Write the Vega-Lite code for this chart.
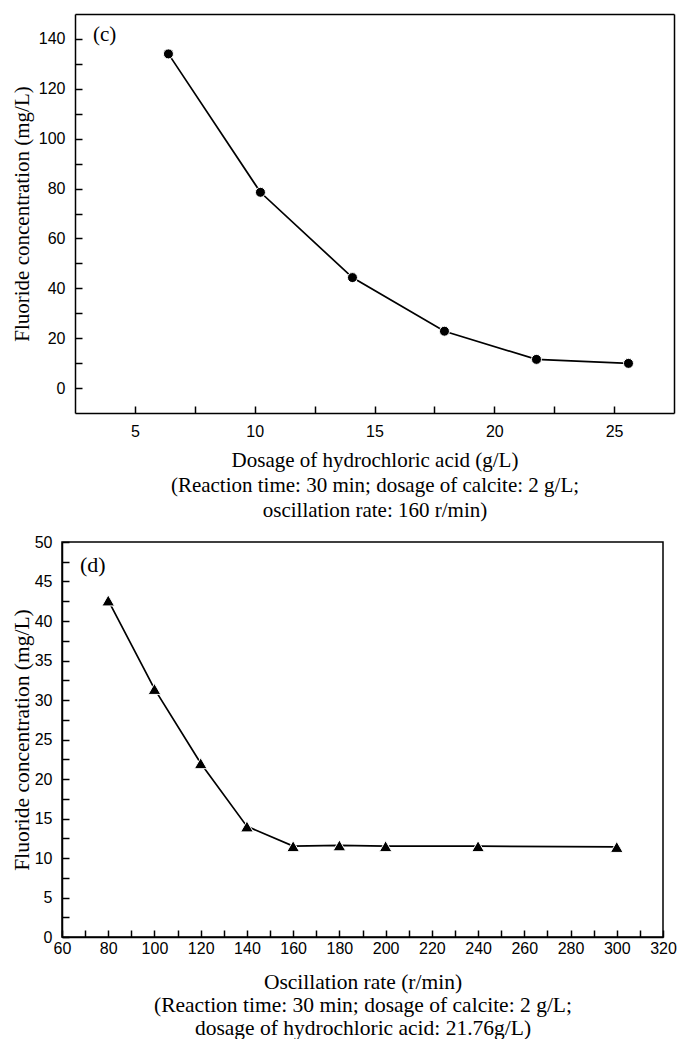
{
  "$schema": "https://vega.github.io/schema/vega-lite/v6.json",
  "background": "white",
  "padding": {"top": 14, "left": 10, "right": 0, "bottom": 0},
  "config": {
    "view": {"stroke": "black", "strokeWidth": 1.5},
    "axis": {
      "domainColor": "black", "domainWidth": 1.5,
      "tickColor": "black", "tickWidth": 1.5, "tickOpacity": 1, "tickCount": 40,
      "labelFont": "Liberation Sans", "labelFontSize": 16, "labelColor": "black",
      "labelFlush": false, "labelOverlap": false,
      "titleFont": "Liberation Serif", "titleFontSize": 21, "titleFontWeight": "normal", "titleColor": "black",
      "grid": false
    }
  },
  "datasets": {
    "c": [
      {"dosage": 6.4, "fluoride": 134.0},
      {"dosage": 10.24, "fluoride": 78.5},
      {"dosage": 14.08, "fluoride": 44.3},
      {"dosage": 17.92, "fluoride": 22.8},
      {"dosage": 21.76, "fluoride": 11.5},
      {"dosage": 25.6, "fluoride": 9.9}
    ],
    "d": [
      {"rate": 80, "fluoride": 42.6},
      {"rate": 100, "fluoride": 31.4},
      {"rate": 120, "fluoride": 22.0},
      {"rate": 140, "fluoride": 14.0},
      {"rate": 160, "fluoride": 11.5},
      {"rate": 180, "fluoride": 11.6},
      {"rate": 200, "fluoride": 11.5},
      {"rate": 240, "fluoride": 11.5},
      {"rate": 300, "fluoride": 11.4}
    ]
  },
  "columns": 1,
  "spacing": 13,
  "concat": [
    {
      "width": 612,
      "height": 399,
      "view": {"stroke": null},
      "resolve": {"axis": {"x": "independent", "y": "independent"}},
      "layer": [
        {
          "data": {"name": "c"},
          "mark": {"type": "line", "color": "black", "strokeWidth": 1.7},
          "encoding": {
            "x": {
              "field": "dosage", "type": "quantitative",
              "scale": {"domain": [2.5, 27.5], "range": [13, 612], "nice": false, "zero": false},
              "axis": {
                "values": [5, 7.5, 10, 12.5, 15, 17.5, 20, 22.5, 25],
                "tickCount": 40,
                "labelExpr": "datum.value % 5 === 0 ? format(datum.value, 'd') : ''",
                "tickSize": -7,
                "encode": {"ticks": {"update": {"y2": {"signal": "datum.value % 5 === 0 ? -7 : -4"}}}},
                "labelPadding": 17,
                "title": ["Dosage of hydrochloric acid (g/L)", "(Reaction time: 30 min; dosage of calcite: 2 g/L;", "oscillation rate: 160 r/min)"],
                "titleLineHeight": 25,
                "titlePadding": 10
              }
            },
            "y": {
              "field": "fluoride", "type": "quantitative",
              "scale": {"domain": [-10, 150], "nice": false, "zero": false},
              "axis": {
                "offset": -13,
                "values": [0, 10, 20, 30, 40, 50, 60, 70, 80, 90, 100, 110, 120, 130, 140],
                "tickCount": 40,
                "labelExpr": "datum.value % 20 === 0 ? format(datum.value, 'd') : ''",
                "tickSize": -7,
                "encode": {"ticks": {"update": {"x2": {"signal": "datum.value % 20 === 0 ? 7 : 4"}}}},
                "labelPadding": 17,
                "title": "Fluoride concentration (mg/L)",
                "titlePadding": 6
              }
            }
          }
        },
        {
          "data": {"name": "c"},
          "mark": {"type": "point", "shape": "circle", "filled": true, "fill": "black", "size": 100, "stroke": "white", "strokeWidth": 1, "opacity": 1},
          "encoding": {
            "x": {"field": "dosage", "type": "quantitative", "axis": {"orient": "top", "labels": false, "ticks": false, "title": null, "domain": true}},
            "y": {"field": "fluoride", "type": "quantitative", "axis": {"orient": "right", "labels": false, "ticks": false, "title": null, "domain": true}}
          }
        },
        {
          "data": {"values": [{}]},
          "mark": {"type": "text", "text": "(c)", "font": "Liberation Serif", "fontSize": 21, "align": "left", "baseline": "middle", "color": "black"},
          "encoding": {
            "x": {"datum": 3.25, "type": "quantitative", "axis": null},
            "y": {"datum": 141.5, "type": "quantitative", "axis": null}
          }
        }
      ]
    },
    {
      "width": 601,
      "height": 395,
      "layer": [
        {
          "data": {"name": "d"},
          "mark": {"type": "line", "color": "black", "strokeWidth": 1.7},
          "encoding": {
            "x": {
              "field": "rate", "type": "quantitative",
              "scale": {"domain": [60, 320], "nice": false, "zero": false},
              "axis": {
                "values": [60, 70, 80, 90, 100, 110, 120, 130, 140, 150, 160, 170, 180, 190, 200, 210, 220, 230, 240, 250, 260, 270, 280, 290, 300, 310, 320],
                "tickCount": 40,
                "labelExpr": "datum.value % 20 === 0 ? format(datum.value, 'd') : ''",
                "tickSize": -7,
                "encode": {"ticks": {"update": {"y2": {"signal": "datum.value % 20 === 0 ? -7 : -4"}}}},
                "labelPadding": 10,
                "title": ["Oscillation rate (r/min)", "(Reaction time: 30 min; dosage of calcite: 2 g/L;", "dosage of hydrochloric acid: 21.76g/L)"],
                "titleFontSize": 21.5,
                "titleLineHeight": 23,
                "titlePadding": 15
              }
            },
            "y": {
              "field": "fluoride", "type": "quantitative",
              "scale": {"domain": [0, 50], "nice": false, "zero": false},
              "axis": {
                "values": [0, 2.5, 5, 7.5, 10, 12.5, 15, 17.5, 20, 22.5, 25, 27.5, 30, 32.5, 35, 37.5, 40, 42.5, 45, 47.5, 50],
                "tickCount": 40,
                "labelExpr": "datum.value % 5 === 0 ? format(datum.value, 'd') : ''",
                "tickSize": -7,
                "encode": {"ticks": {"update": {"x2": {"signal": "datum.value % 5 === 0 ? 7 : 4"}}}},
                "labelPadding": 17,
                "title": "Fluoride concentration (mg/L)",
                "titleFontSize": 21.5,
                "titlePadding": 1
              }
            }
          }
        },
        {
          "data": {"name": "d"},
          "mark": {"type": "point", "shape": "triangle-up", "filled": true, "fill": "black", "size": 160, "stroke": "white", "strokeWidth": 1, "opacity": 1},
          "encoding": {
            "x": {"field": "rate", "type": "quantitative"},
            "y": {"field": "fluoride", "type": "quantitative"}
          }
        },
        {
          "data": {"values": [{}]},
          "mark": {"type": "text", "text": "(d)", "font": "Liberation Serif", "fontSize": 22, "align": "left", "baseline": "middle", "color": "black"},
          "encoding": {
            "x": {"datum": 67.8, "type": "quantitative"},
            "y": {"datum": 47.1, "type": "quantitative"}
          }
        }
      ]
    }
  ]
}
